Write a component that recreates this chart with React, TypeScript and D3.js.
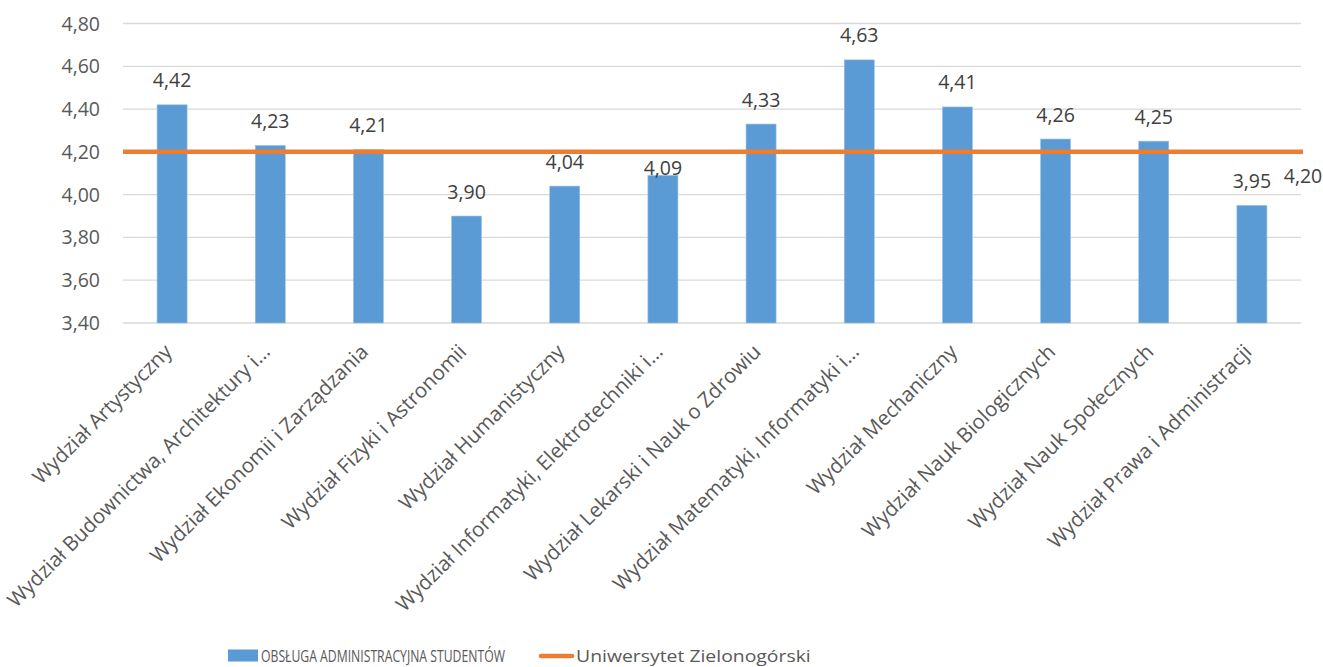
import React, { useEffect, useRef } from "react";
import * as d3 from "d3";

const categories = [
  "Wydział Artystyczny",
  "Wydział Budownictwa, Architektury i…",
  "Wydział Ekonomii i Zarządzania",
  "Wydział Fizyki i Astronomii",
  "Wydział Humanistyczny",
  "Wydział Informatyki, Elektrotechniki i…",
  "Wydział Lekarski i Nauk o Zdrowiu",
  "Wydział Matematyki, Informatyki i…",
  "Wydział Mechaniczny",
  "Wydział Nauk Biologicznych",
  "Wydział Nauk Społecznych",
  "Wydział Prawa i Administracji",
];
const values = [4.42, 4.23, 4.21, 3.9, 4.04, 4.09, 4.33, 4.63, 4.41, 4.26, 4.25, 3.95];
const universityAvg = 4.2;
const yTicks = [3.4, 3.6, 3.8, 4.0, 4.2, 4.4, 4.6, 4.8];
const barSeriesName = "OBSŁUGA ADMINISTRACYJNA STUDENTÓW";
const lineSeriesName = "Uniwersytet Zielonogórski";

const FONT = "'Open Sans', 'Noto Sans', sans-serif";
const fmt = (v: number) => v.toFixed(2).replace(".", ",");

export default function App() {
  const svgRef = useRef<SVGSVGElement>(null);

  useEffect(() => {
    document.body.style.margin = "0";
    const width = 1323;
    const height = 667;
    const left = 123;
    const right = 1301;
    const top = 23.5;
    const bottom = 323;

    const svg = d3.select(svgRef.current);
    svg.selectAll("*").remove();
    svg.attr("width", width).attr("height", height);

    const x = d3
      .scaleBand<string>()
      .domain(categories)
      .range([left, right])
      .paddingInner(0.694)
      .paddingOuter(0.347);

    const y = d3.scaleLinear().domain([3.4, 4.8]).range([bottom, top]);

    // siatka + etykiety osi Y
    const grid = svg.append("g");
    grid
      .selectAll("line")
      .data(yTicks)
      .enter()
      .append("line")
      .attr("x1", left)
      .attr("x2", right)
      .attr("y1", (d) => y(d))
      .attr("y2", (d) => y(d))
      .attr("stroke", "#d9d9d9")
      .attr("stroke-width", 1.3);

    grid
      .selectAll("text")
      .data(yTicks)
      .enter()
      .append("text")
      .attr("x", 100)
      .attr("y", (d) => y(d))
      .attr("dy", "0.36em")
      .attr("text-anchor", "end")
      .attr("font-family", FONT)
      .attr("font-size", 19.5)
      .attr("fill", "#595959")
      .text((d) => fmt(d));

    // słupki
    svg
      .append("g")
      .selectAll("rect")
      .data(values)
      .enter()
      .append("rect")
      .attr("x", (d, i) => x(categories[i])!)
      .attr("y", (d) => y(d))
      .attr("width", x.bandwidth())
      .attr("height", (d) => bottom - y(d))
      .attr("fill", "#5b9bd5")
      .attr("stroke", "#9dc3e6")
      .attr("stroke-width", 0.6);

    // linia średniej uczelni
    svg
      .append("line")
      .attr("x1", left)
      .attr("x2", right + 2)
      .attr("y1", y(universityAvg))
      .attr("y2", y(universityAvg))
      .attr("stroke", "#ed7d31")
      .attr("stroke-width", 4.5);

    // etykiety danych (etykieta 4,09 w oryginale była przesunięta w dół)
    svg
      .append("g")
      .selectAll("text")
      .data(values)
      .enter()
      .append("text")
      .attr("x", (d, i) => x(categories[i])! + x.bandwidth() / 2)
      .attr("y", (d, i) => y(d) - (i === 5 ? 0 : 17.5))
      .attr("text-anchor", "middle")
      .attr("font-family", FONT)
      .attr("font-size", 19.5)
      .attr("fill", "#404040")
      .text((d) => fmt(d));

    svg
      .append("text")
      .attr("x", right + 2)
      .attr("y", y(universityAvg) + 31)
      .attr("text-anchor", "middle")
      .attr("font-family", FONT)
      .attr("font-size", 19.5)
      .attr("fill", "#404040")
      .text(fmt(universityAvg));

    // etykiety kategorii
    svg
      .append("g")
      .selectAll("text")
      .data(categories)
      .enter()
      .append("text")
      .attr(
        "transform",
        (d) => `translate(${x(d)! + x.bandwidth() / 2 - 4},${bottom + 25}) rotate(-45)`
      )
      .attr("dy", "0.35em")
      .attr("text-anchor", "end")
      .attr("font-family", FONT)
      .attr("font-size", 20.5)
      .attr("fill", "#595959")
      .text((d) => d);

    // legenda – tekst w oryginale jest zwężony, więc skalujemy go w poziomie
    const legend = svg.append("g");
    const legendText = (lx: number, label: string, targetW: number) => {
      const t = legend
        .append("text")
        .attr("font-family", FONT)
        .attr("font-size", 17)
        .attr("fill", "#595959")
        .text(label);
      const w = (t.node() as SVGTextElement).getComputedTextLength() || targetW;
      t.attr("transform", `translate(${lx},661.5) scale(${targetW / w},1)`);
    };
    legend
      .append("rect")
      .attr("x", 228)
      .attr("y", 649.5)
      .attr("width", 30)
      .attr("height", 12)
      .attr("fill", "#5b9bd5");
    legendText(261, barSeriesName, 244);
    legend
      .append("line")
      .attr("x1", 541)
      .attr("x2", 572)
      .attr("y1", 656)
      .attr("y2", 656)
      .attr("stroke", "#ed7d31")
      .attr("stroke-width", 4.5)
      .attr("stroke-linecap", "round");
    legendText(576, lineSeriesName, 235);
  }, []);

  return <svg ref={svgRef} style={{ display: "block" }} />;
}
